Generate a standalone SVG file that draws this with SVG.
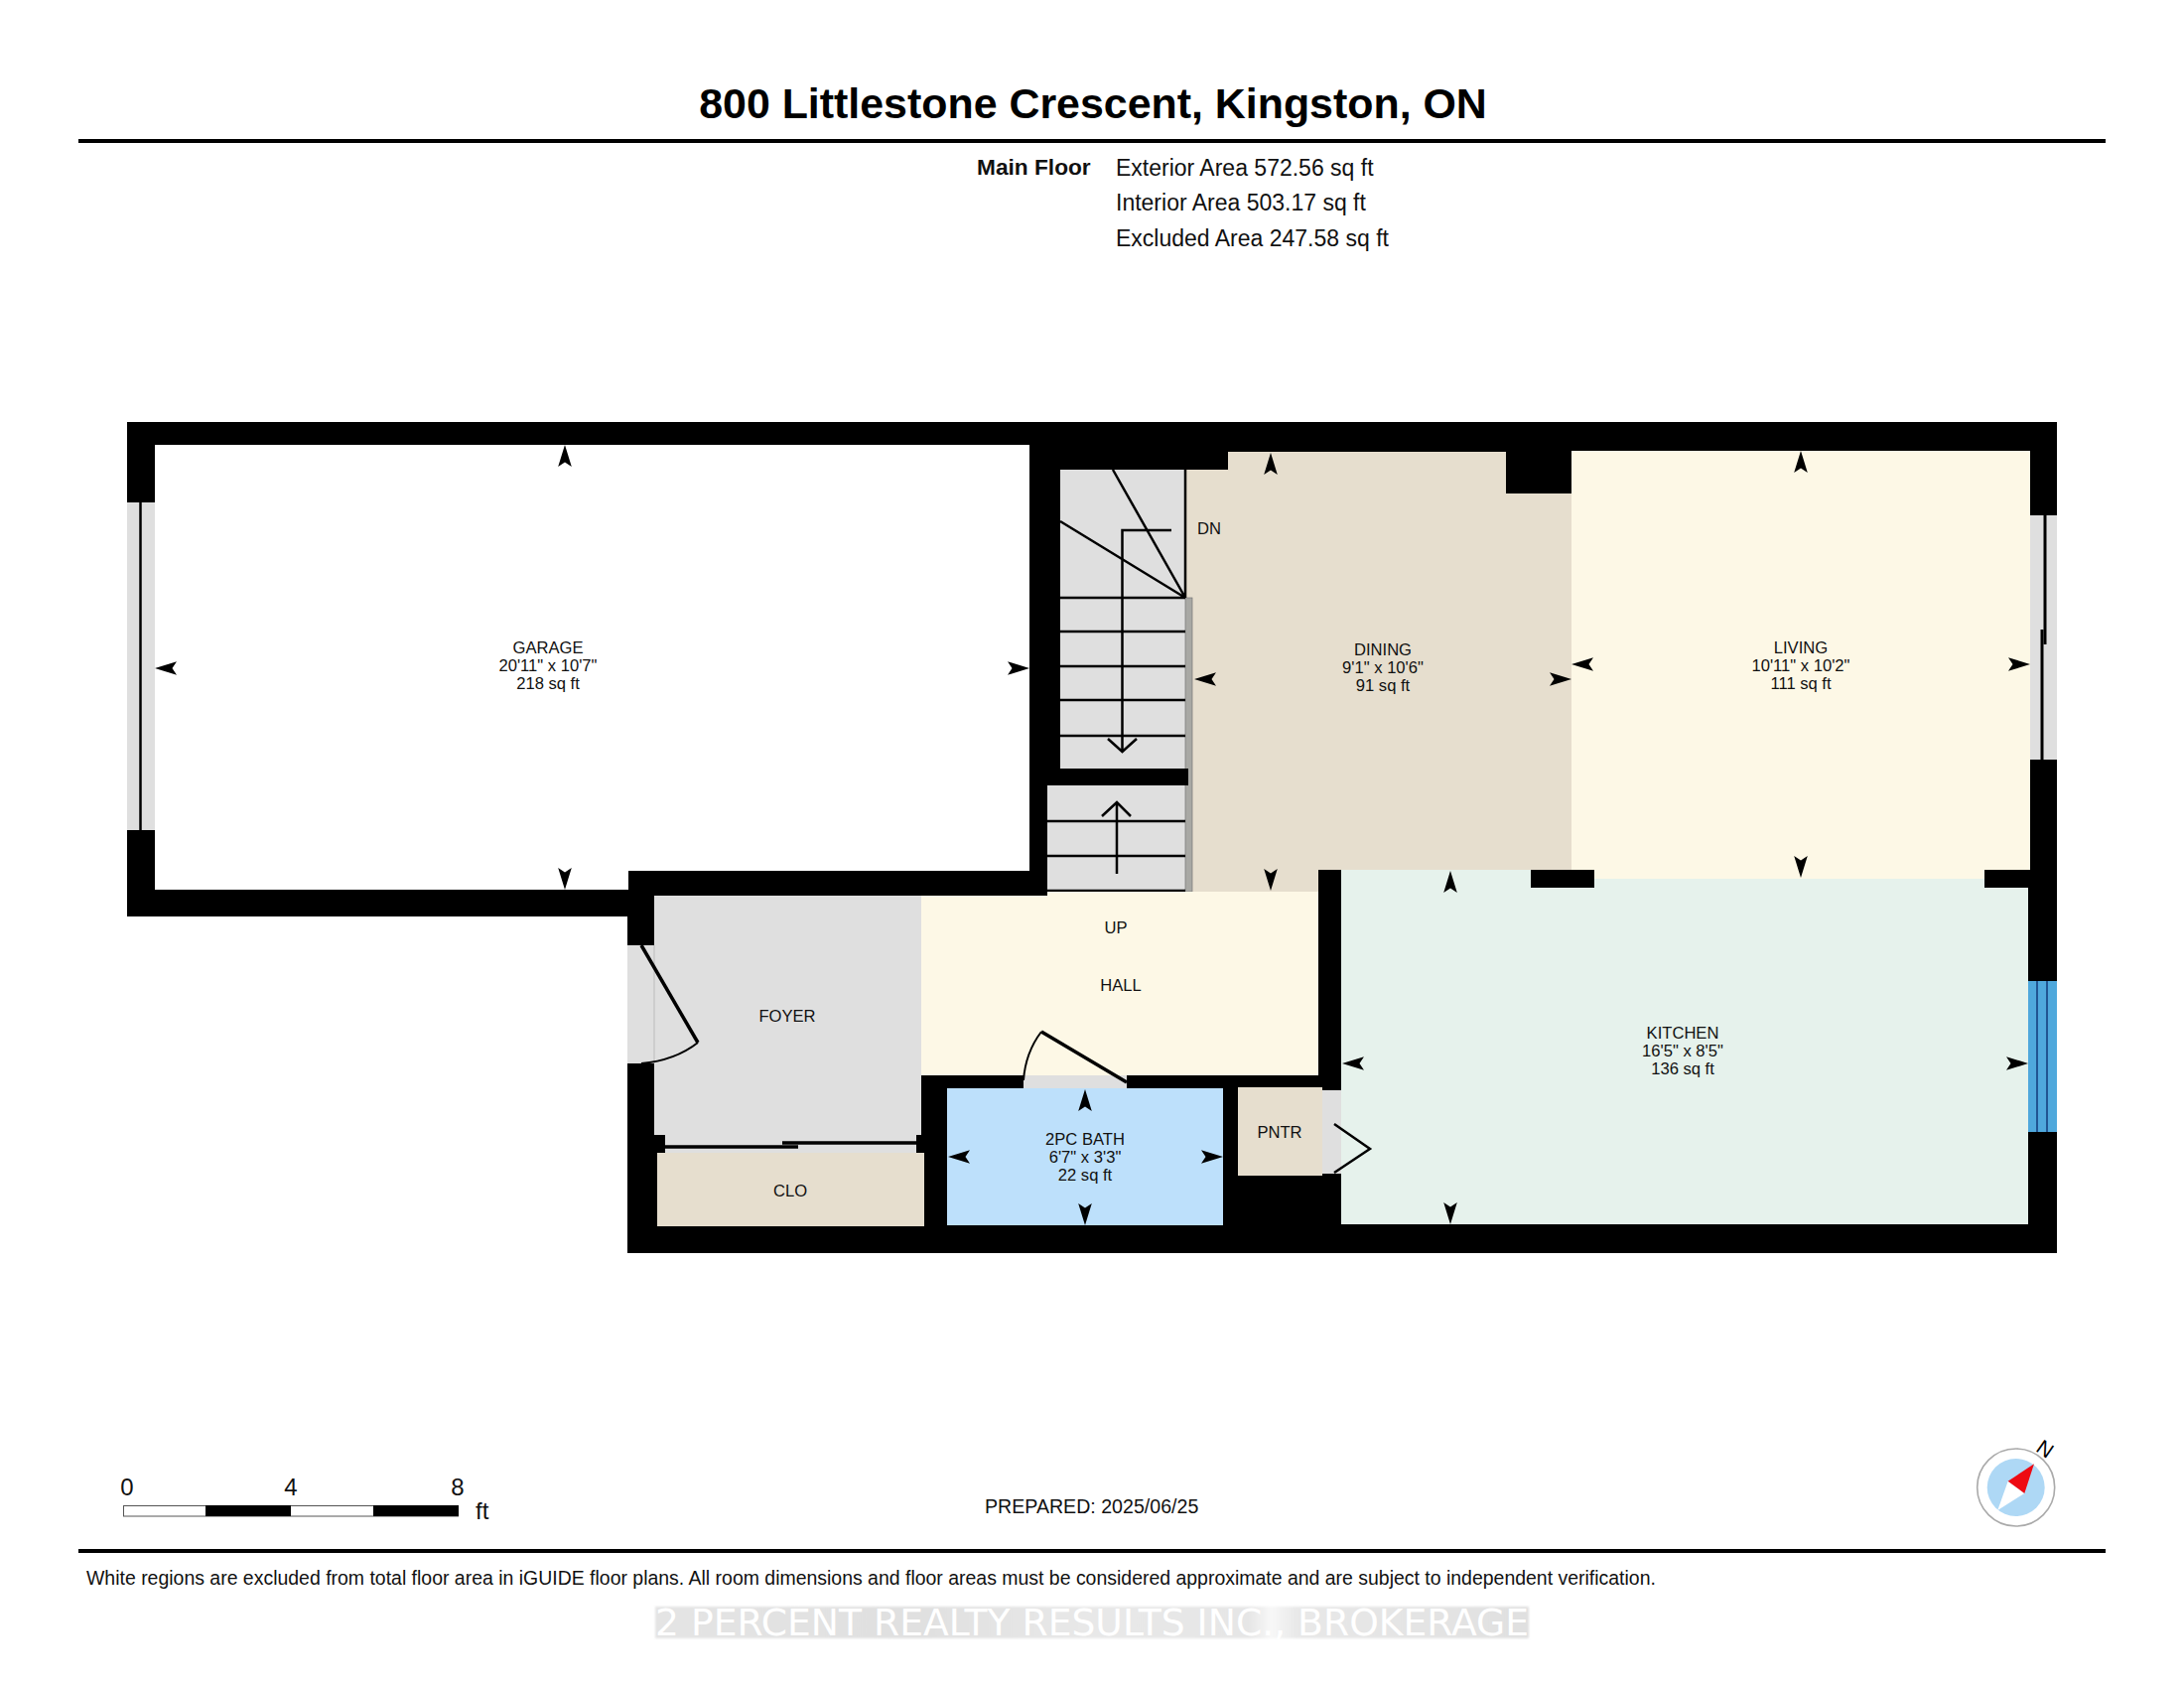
<svg xmlns="http://www.w3.org/2000/svg" width="2200" height="1700" viewBox="0 0 2200 1700">
<style>
text{font-family:"Liberation Sans",Arial,sans-serif;fill:#111}
.rm{font-size:16.6px;text-anchor:middle}
.info{font-size:23px}
.ln{stroke:#000;stroke-width:2.5;fill:none}
.dr{stroke:#000;stroke-width:3.5;fill:none}
.gap{fill:#dfdfdf}
.wall{fill:#000}
.sc{font-size:24px;text-anchor:middle}
</style>
<defs>
<path id="ah" d="M0,0 L-22,-6.8 L-17.5,0 L-22,6.8Z" fill="#000"/>
<linearGradient id="wm" x1="0" x2="1" y1="0" y2="0">
<stop offset="0" stop-color="#e4e4e4"/><stop offset="0.3" stop-color="#e0e0e0"/><stop offset="0.5" stop-color="#e8e8e8"/><stop offset="0.68" stop-color="#e6e6e6"/><stop offset="0.705" stop-color="#f8f8f8"/><stop offset="0.735" stop-color="#e8e8e8"/><stop offset="1" stop-color="#e0e0e0"/>
</linearGradient>
<filter id="soft" x="-2%" y="-20%" width="104%" height="140%"><feGaussianBlur stdDeviation="1"/></filter>
</defs>
<rect width="2200" height="1700" fill="#fff"/>
<g id="header">
<text x="1101" y="119" font-size="42.9" font-weight="700" text-anchor="middle" style="fill:#000">800 Littlestone Crescent, Kingston, ON</text>
<rect x="79" y="140" width="2042" height="4" fill="#000"/>
<text x="984" y="176" class="info" font-weight="700" style="font-size:22.7px">Main Floor</text>
<text x="1124" y="177" class="info">Exterior Area 572.56 sq ft</text>
<text x="1124" y="212" class="info">Interior Area 503.17 sq ft</text>
<text x="1124" y="248" class="info">Excluded Area 247.58 sq ft</text>
</g>
<g id="shell"><polygon class="wall" points="128,425 2072,425 2072,1262 632,1262 632,923 128,923"/></g>
<g id="garage">
<polygon fill="#fff" points="156,448 1037,448 1037,877 633,877 633,896 156,896"/>
<rect class="gap" x="128" y="506" width="28" height="330"/>
<line class="ln" x1="141.5" y1="506" x2="141.5" y2="836"/>
<text class="rm" x="552" y="658">GARAGE</text><text class="rm" x="552" y="676">20'11" x 10'7"</text><text class="rm" x="552" y="694">218 sq ft</text>
</g>
<g id="dining">
<polygon fill="#e6dece" points="1237,455 1517,455 1517,497 1583,497 1583,876 1328,876 1328,898 1194,898 1194,473 1237,473"/>
<text class="rm" x="1393" y="660">DINING</text><text class="rm" x="1393" y="678">9'1" x 10'6"</text><text class="rm" x="1393" y="696">91 sq ft</text>
<text x="1206" y="538" font-size="16.6">DN</text>
</g>
<g id="living">
<polygon fill="#fdf8e6" points="1583,454 2045,454 2045,885 1606,885 1606,876 1583,876"/>
<rect class="gap" x="2045" y="519" width="27" height="246"/>
<line x1="2060" y1="519" x2="2060" y2="649" stroke="#000" stroke-width="3"/>
<line x1="2057" y1="634" x2="2057" y2="765" stroke="#000" stroke-width="3"/>
<text class="rm" x="1814" y="658">LIVING</text><text class="rm" x="1814" y="676">10'11" x 10'2"</text><text class="rm" x="1814" y="694">111 sq ft</text>
</g>
<g id="kitchen">
<polygon fill="#e6f2ec" points="1351,876 1542,876 1542,885 2043,885 2043,1233 1351,1233"/>
<rect class="wall" x="1542" y="876" width="64" height="18"/>
<rect class="wall" x="1999" y="876" width="46" height="18"/>
<rect x="2043" y="988" width="29" height="152" fill="#4fa8dc"/>
<line x1="2052" y1="988" x2="2052" y2="1140" stroke="#123a7a" stroke-width="1.5"/>
<line x1="2062" y1="988" x2="2062" y2="1140" stroke="#123a7a" stroke-width="1.5"/>
<text class="rm" x="1695" y="1046">KITCHEN</text><text class="rm" x="1695" y="1064">16'5" x 8'5"</text><text class="rm" x="1695" y="1082">136 sq ft</text>
</g>
<g id="stairs">
<rect class="gap" x="1068" y="473" width="126" height="301"/>
<rect class="gap" x="1055" y="791" width="139" height="107"/>
<rect x="1194" y="602" width="7" height="296" fill="#a8a8a4" stroke="#777" stroke-width="0.7"/>
<rect class="wall" x="1055" y="774" width="142" height="17"/>
<path class="ln" d="M1194,473V602M1068,602H1194M1068,636H1194M1068,671H1194M1068,705H1194M1068,741H1194M1121,473L1194,602M1068,525L1194,602"/>
<path class="ln" d="M1180,534H1130.5V757M1116,744L1130.5,757L1145,744"/>
<path class="ln" d="M1055,827H1194M1055,862H1194M1055,897H1194M1125,880V808M1110,822L1125,808L1139,822"/>
</g>
<g id="hall">
<polygon fill="#fdf8e6" points="928,902 1055,902 1055,898 1328,898 1328,1083 928,1083"/>
<rect class="gap" x="1031" y="1083" width="104" height="13"/>
<line class="dr" x1="1135" y1="1090" x2="1049" y2="1039"/>
<path d="M1049,1039Q1033,1060 1031,1088" fill="none" stroke="#000" stroke-width="2"/>
<text class="rm" x="1124" y="940">UP</text>
<text class="rm" x="1129" y="998">HALL</text>
</g>
<g id="foyer">
<rect class="gap" x="659" y="902" width="269" height="259"/>
<rect class="gap" x="632" y="952" width="27" height="119"/>
<line x1="659" y1="952" x2="659" y2="1071" stroke="#bbb" stroke-width="1"/>
<line class="dr" x1="646" y1="952" x2="703" y2="1050"/>
<path d="M703,1050Q680,1068 646,1071" fill="none" stroke="#000" stroke-width="2"/>
<rect class="wall" x="659" y="1143" width="11" height="18"/>
<rect class="wall" x="923" y="1143" width="8" height="18"/>
<line class="dr" x1="669" y1="1155" x2="804" y2="1155"/>
<line class="dr" x1="788" y1="1151" x2="923" y2="1151"/>
<text class="rm" x="793" y="1029">FOYER</text>
</g>
<g id="closet">
<rect x="662" y="1161" width="269" height="74" fill="#e6dece"/>
<text class="rm" x="796" y="1205">CLO</text>
</g>
<g id="bath">
<rect x="954" y="1096" width="278" height="138" fill="#bde0fb"/>
<text class="rm" x="1093" y="1153">2PC BATH</text><text class="rm" x="1093" y="1171">6'7" x 3'3"</text><text class="rm" x="1093" y="1189">22 sq ft</text>
</g>
<g id="pantry">
<rect x="1247" y="1095" width="85" height="89" fill="#e6dece"/>
<rect class="gap" x="1332" y="1098" width="19" height="84"/>
<path class="ln" d="M1344,1132L1380,1157L1344,1181"/>
<text class="rm" x="1289" y="1146">PNTR</text>
</g>
<g id="connectors">
<use href="#ah" transform="translate(569,448) rotate(-90)"/><use href="#ah" transform="translate(569,896) rotate(90)"/><use href="#ah" transform="translate(156,673) rotate(180)"/><use href="#ah" transform="translate(1037,673)"/>
<use href="#ah" transform="translate(1280,456) rotate(-90)"/><use href="#ah" transform="translate(1280,897) rotate(90)"/><use href="#ah" transform="translate(1203,684) rotate(180)"/><use href="#ah" transform="translate(1583,684)"/>
<use href="#ah" transform="translate(1814,454) rotate(-90)"/><use href="#ah" transform="translate(1814,884) rotate(90)"/><use href="#ah" transform="translate(1583,669) rotate(180)"/><use href="#ah" transform="translate(2045,669)"/>
<use href="#ah" transform="translate(1461,877) rotate(-90)"/><use href="#ah" transform="translate(1461,1233) rotate(90)"/><use href="#ah" transform="translate(1352,1071) rotate(180)"/><use href="#ah" transform="translate(2043,1071)"/>
<use href="#ah" transform="translate(1093,1097) rotate(-90)"/><use href="#ah" transform="translate(1093,1234) rotate(90)"/><use href="#ah" transform="translate(955,1165) rotate(180)"/><use href="#ah" transform="translate(1232,1165)"/>
</g>
<g id="scale">
<rect x="124.5" y="1516.5" width="337" height="10.5" fill="#fff" stroke="#555" stroke-width="1"/>
<rect x="207" y="1516" width="86" height="11" fill="#000"/>
<rect x="376" y="1516" width="86" height="11" fill="#000"/>
<text class="sc" x="128" y="1506">0</text><text class="sc" x="293" y="1506">4</text><text class="sc" x="461" y="1506">8</text>
<text x="479" y="1530" font-size="24">ft</text>
</g>
<g id="compass">
<circle cx="2030.7" cy="1498" r="39" fill="#fff" stroke="#aaa" stroke-width="1.6"/>
<circle cx="2030.7" cy="1498" r="29" fill="#aed8f5"/>
<polygon points="2022.7,1491.7 2039.3,1504 2012.3,1521" fill="#fff"/>
<polygon points="2049,1474.3 2022.7,1491.7 2039.3,1504" fill="#ee0a12"/>
<text x="0" y="0" font-size="21" text-anchor="middle" transform="translate(2056,1465) rotate(35)" style="fill:#000">N</text>
</g>
<g id="footer">
<text x="992" y="1524" font-size="19.6">PREPARED: 2025/06/25</text>
<rect x="79" y="1560" width="2042" height="4" fill="#000"/>
<text x="87" y="1596" font-size="19.47">White regions are excluded from total floor area in iGUIDE floor plans. All room dimensions and floor areas must be considered approximate and are subject to independent verification.</text>
</g>
<g id="watermark">
<rect x="660" y="1618" width="880" height="32" fill="url(#wm)" filter="url(#soft)"/>
<text x="660" y="1647" font-size="37" textLength="880" lengthAdjust="spacingAndGlyphs" style="font-family:'DejaVu Sans',sans-serif;fill:#fff">2 PERCENT REALTY RESULTS INC., BROKERAGE</text>
</g>
</svg>
